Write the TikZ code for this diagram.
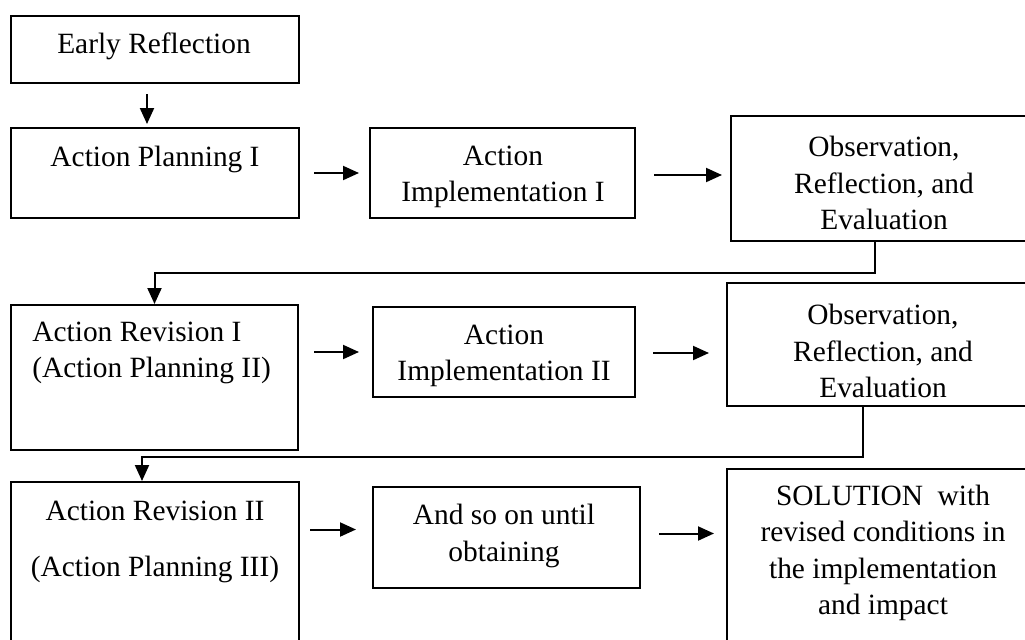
\documentclass[tikz,border=0pt]{standalone}
\usepackage{fontspec}
\setmainfont{Liberation Serif}
\usetikzlibrary{arrows.meta}
\usetikzlibrary{fit}

\begin{document}
\begin{tikzpicture}[x = 0.5pt, y = -0.5pt]
	\tikzstyle{boxStyle} = [draw, line width = 1pt, inner sep = 0pt]
	\tikzstyle{textStyle} = [align = center, inner sep = 0pt, font = \fontsize{14.7}{18.3}\selectfont]
	\tikzstyle{arrowStyle} = [line width = 1pt, -{Triangle[length = 8pt, width = 7pt]}]
	\clip (0,0) rectangle (1025,639);
	\node[boxStyle, fit = {(11,16) (299,83)}] (er) {};
	\node[boxStyle, fit = {(11,128) (299,218)}] (ap1) {};
	\node[boxStyle, fit = {(370,128) (635,218)}] (ai1) {};
	\node[boxStyle, fit = {(731,116) (1039,241)}] (obs1) {};
	\node[boxStyle, fit = {(11,305) (298,450)}] (ar1) {};
	\node[boxStyle, fit = {(373,307) (635,397)}] (ai2) {};
	\node[boxStyle, fit = {(727,283) (1039,406)}] (obs2) {};
	\node[boxStyle, fit = {(11,482) (299,660)}] (ar2) {};
	\node[boxStyle, fit = {(373,487) (640,588)}] (aos) {};
	\node[boxStyle, fit = {(727,469) (1039,660)}] (sol) {};
	\node[textStyle] (er-t) at (154,46) {Early Reflection};
	\node[textStyle] (ap1-t) at (155,159) {Action Planning I};
	\node[textStyle] (ai1-t) at (503,177) {Action\\Implementation I};
	\node[textStyle] (obs1-t) at (884,183) {Observation,\\Reflection, and\\Evaluation};
	\node[textStyle, align = left, anchor = west] (ar1-t) at (32,353) {Action Revision I\\(Action Planning II)};
	\node[textStyle] (ai2-t) at (504,356) {Action\\Implementation II};
	\node[textStyle] (obs2-t) at (883,351) {Observation,\\Reflection, and\\Evaluation};
	\node[textStyle] (ar2-t) at (155,542) {Action Revision II\\[10pt](Action Planning III)};
	\node[textStyle] (aos-t) at (504,536) {And so on until\\obtaining};
	\node[textStyle] (sol-t) at (883,553) {SOLUTION~ with\\revised conditions in\\the implementation\\and impact};
	\draw[arrowStyle, shorten <= 5pt, shorten >= 1.5pt] ([xshift = -4pt]er.south) -- ([xshift = -4pt]ap1.north);
	\draw[arrowStyle, shorten <= 7pt, shorten >= 5pt] (ap1.east) -- (ai1.west);
	\draw[arrowStyle, shorten <= 9pt, shorten >= 4pt] ([yshift = -1pt]ai1.east) -- ([yshift = -1pt]ai1.east -| obs1.west);
	\draw[arrowStyle] ([xshift = -5pt]obs1.south) -- ++(0,31) -| (ar1.north);
	\draw[arrowStyle, shorten <= 7.5pt, shorten >= 6.5pt] (ai2.west -| ar1.east) -- (ai2.west);
	\draw[arrowStyle, shorten <= 8.5pt, shorten >= 8.5pt] ([yshift = -0.5pt]ai2.east) -- ([yshift = -0.5pt]ai2.east -| obs2.west);
	\draw[arrowStyle] ([xshift = -10pt]obs2.south) -- ++(0,50) -| ([xshift = -6.5pt]ar2.north);
	\draw[arrowStyle, shorten <= 5pt, shorten >= 8pt] ([yshift = 4pt]aos.west -| ar2.east) -- ([yshift = 4pt]aos.west);
	\draw[arrowStyle, shorten <= 9pt, shorten >= 6pt] ([yshift = 2pt]aos.east) -- ([yshift = 2pt]aos.east -| sol.west);
\end{tikzpicture}
\end{document}
